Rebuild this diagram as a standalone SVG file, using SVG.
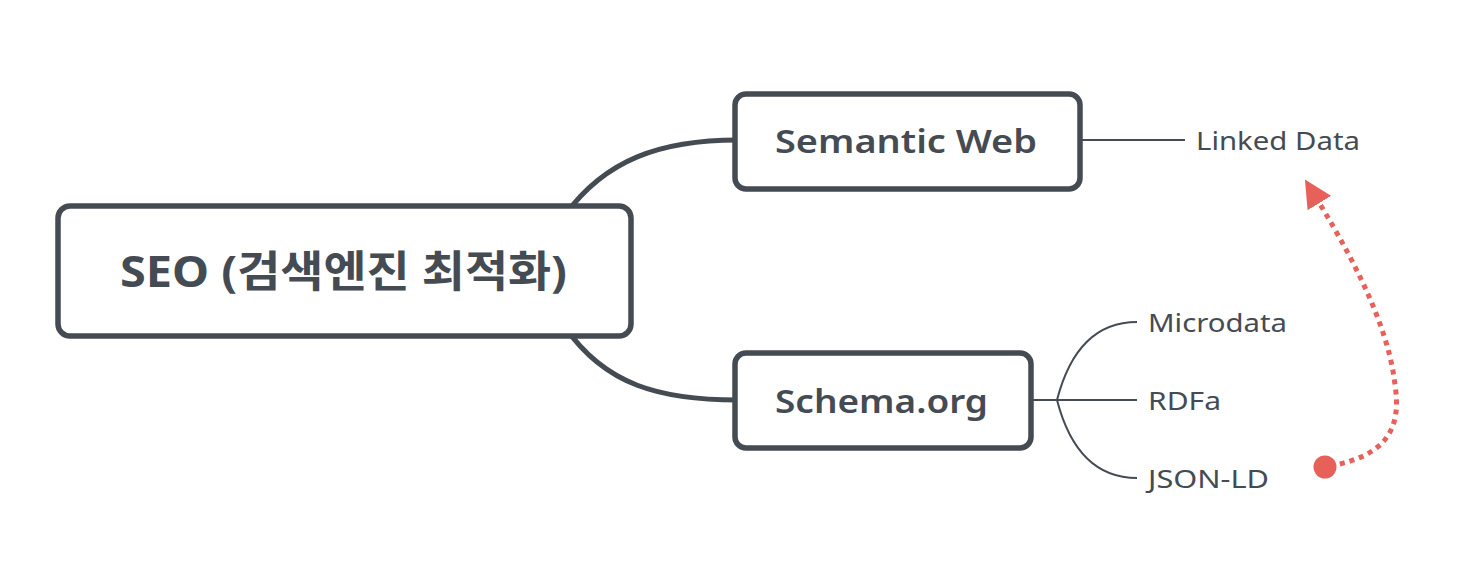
<svg xmlns="http://www.w3.org/2000/svg" width="1476" height="582" viewBox="0 0 1476 582">
<defs>
<style>
.box{fill:#fff;stroke:#454b53;stroke-width:5.5}
.main{stroke:#454b53;stroke-width:5;fill:none}
.thin{stroke:#454b53;stroke-width:2;fill:none}
.t{fill:#454b53;font-family:"Noto Sans","Noto Sans CJK KR",sans-serif}
.b{font-weight:bold}
.s{font-weight:600}
.leaf{font-size:25px;fill:#454b53;font-family:"Noto Sans","Noto Sans CJK KR",sans-serif;dominant-baseline:central}
.rel{stroke:#e8605a;stroke-width:5;fill:none;stroke-dasharray:5 5}
</style>
<marker id="arr" viewBox="0 0 10 10" refX="3" refY="5" markerWidth="5.5" markerHeight="5.5" orient="auto" markerUnits="strokeWidth">
<path d="M0 0 L10 5 L0 10 z" fill="#e8605a"/>
</marker>
</defs>
<rect width="1476" height="582" fill="#fff"/>
<g id="connectors">
<path class="main" d="M 565 215 C 605 160, 660 140, 738 140"/>
<path class="main" d="M 565 327 C 605 385, 660 400, 738 400"/>
<path class="thin" d="M 1080 140 L 1185 140"/>
<path class="thin" d="M 1031 400 L 1137 400"/>
<path class="thin" d="M 1057 400 C 1070 350, 1095 322, 1137 322"/>
<path class="thin" d="M 1057 400 C 1070 450, 1095 478, 1137 478"/>
<path class="rel" d="M 1330 466 C 1385 456, 1402 430, 1395 385 C 1388 320, 1345 245, 1315 196" marker-end="url(#arr)"/>
<circle cx="1325" cy="467" r="11.5" fill="#e8605a"/>
</g>
<g id="node-seo">
<rect class="box" x="58" y="206" width="573" height="130" rx="12"/>
<text class="t b" x="120" y="270" font-size="43" textLength="447" lengthAdjust="spacingAndGlyphs" dominant-baseline="central">SEO (검색엔진 최적화)</text>
</g>
<g id="node-semantic">
<rect class="box" x="735" y="94" width="345" height="95" rx="11"/>
<text class="t s" x="775" y="140" font-size="33" textLength="262" lengthAdjust="spacingAndGlyphs" dominant-baseline="central">Semantic Web</text>
</g>
<g id="node-schema">
<rect class="box" x="735" y="353" width="296" height="95" rx="11"/>
<text class="t s" x="775" y="400" font-size="33" textLength="213" lengthAdjust="spacingAndGlyphs" dominant-baseline="central">Schema.org</text>
</g>
<g id="node-linked"><text class="leaf" x="1196" y="140" textLength="164" lengthAdjust="spacingAndGlyphs">Linked Data</text></g>
<g id="node-microdata"><text class="leaf" x="1148" y="322" textLength="139" lengthAdjust="spacingAndGlyphs">Microdata</text></g>
<g id="node-rdfa"><text class="leaf" x="1148" y="400" textLength="73" lengthAdjust="spacingAndGlyphs">RDFa</text></g>
<g id="node-jsonld"><text class="leaf" x="1148" y="478" textLength="121" lengthAdjust="spacingAndGlyphs">JSON-LD</text></g>
</svg>
